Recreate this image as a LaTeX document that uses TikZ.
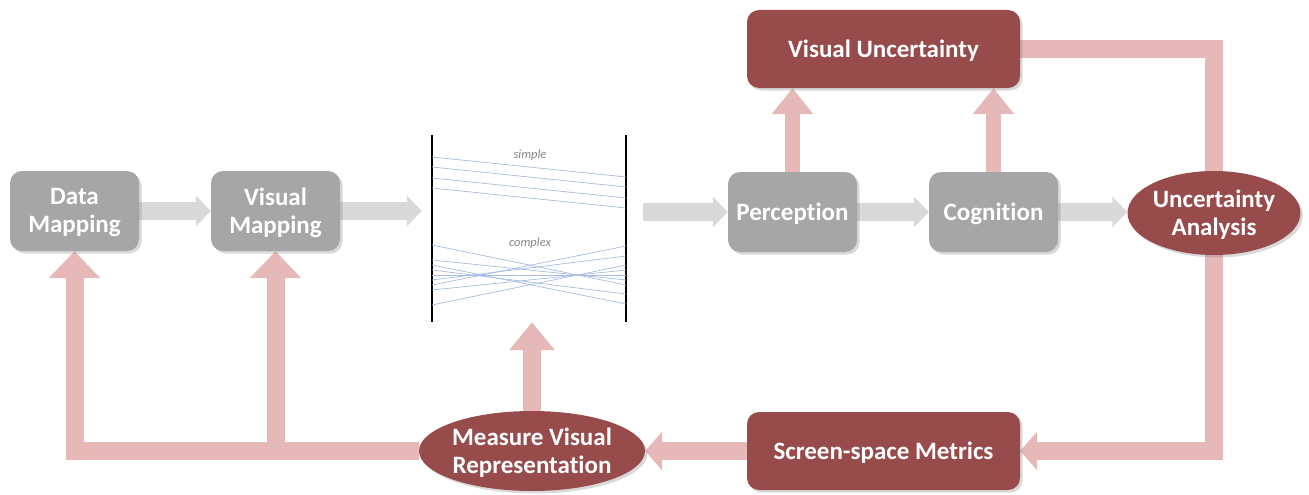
\documentclass[tikz,border=0pt]{standalone}
\usepackage{fontspec}
\setmainfont{Carlito}[Ligatures=NoCommon]
\usetikzlibrary{arrows.meta,shapes.geometric,shadows,backgrounds}
\definecolor{boxgray}{HTML}{A6A6A6}
\definecolor{arrgray}{HTML}{D9D9D9}
\definecolor{darkred}{HTML}{984B4B}
\definecolor{pinkarr}{HTML}{E6B8B7}
\definecolor{pcblue}{HTML}{A7BCE0}
\definecolor{pclabel}{HTML}{858585}
\begin{document}
\begin{tikzpicture}[x=1pt,y=-1pt,
  lbl/.style={text=white, font=\fontsize{25}{28}\selectfont\bfseries, align=center, inner sep=0pt, text depth=1pt},
  shad/.style={drop shadow={shadow xshift=2.5pt, shadow yshift=-2.5pt, opacity=0.3}},
  graybox/.style={lbl, shad, fill=boxgray, rounded corners=12pt, minimum width=129pt, minimum height=80pt},
  redbox/.style={lbl, shad, fill=darkred, rounded corners=12pt, minimum width=273pt, minimum height=78pt},
  redell/.style={lbl, shad, ellipse, fill=darkred},
  grayarr/.style={draw=arrgray, line width=18pt, line cap=butt, -{Triangle[length=15pt,width=30pt]}},
  pinkline/.style={draw=pinkarr, line width=18pt, line cap=butt, line join=miter},
  pinkarrow/.style={pinkline, -{Triangle[length=27pt,width=50pt]}},
  pinkup/.style={draw=pinkarr, line width=15pt, line cap=butt, -{Triangle[length=26pt,width=40pt]}},
  pinkleft/.style={pinkline, -{Triangle[length=17pt,width=38pt]}},
  axis/.style={draw=black, line width=2.5pt},
  pcline/.style={draw=pcblue, line width=0.7pt},
  pclbl/.style={text=pclabel, font=\fontsize{12.5}{14}\selectfont\itshape, inner sep=0pt}
]
\useasboundingbox (0,0) rectangle (1309,495);

% nodes
\node[graybox] (dm) at (74.5,211) {Data\\Mapping};
\node[graybox] (vm) at (275.5,211) {Visual\\Mapping};
\node[minimum width=194pt, minimum height=187pt, inner sep=0pt] (pc) at (529,228.5) {};
\node[graybox] (perc) at (792.5,212) {Perception};
\node[graybox] (cog) at (993.5,212) {Cognition};
\node[redell, minimum width=168pt, minimum height=84pt] (ua) at (1214,213) {Uncertainty\\Analysis};
\node[redbox] (vu) at (883.5,49) {Visual Uncertainty};
\node[redbox] (sm) at (883.5,451) {Screen-space Metrics};
\node[redell, minimum width=220pt, minimum height=80pt] (mvr) at (532,451) {Measure Visual\\Representation};

% parallel coordinates
\draw[axis] (pc.north west) -- (pc.south west);
\draw[axis] (pc.north east) -- (pc.south east);
\node[pclbl] (simple) at (530,155) {simple};
\node[pclbl] (complex) at (530,243) {complex};
\foreach \a/\b in {157/177,167/187,178/198,188/208}
  \draw[pcline] (432,\a) -- (626,\b);
\foreach \a/\b in {265/304,285/246,270/294,280/256,305/265,245/285,290/270,260/280,275/275}
  \draw[pcline] (432,\a) -- (626,\b);

% connectors
\begin{pgfonlayer}{background}
\draw[grayarr] (dm.east) -- (vm.west);
\draw[grayarr, shorten >=10pt] (vm.east) -- (vm.east -| pc.west);
\draw[grayarr, shorten <=17pt] (pc.east |- perc.west) -- (perc.west);
\draw[grayarr] (perc.east) -- (cog.west);
\draw[grayarr] (cog.east) -- (cog.east -| ua.west);
\draw[pinkup] (perc.north) -- (perc.north |- vu.south);
\draw[pinkup] (cog.north) -- (cog.north |- vu.south);
\draw[pinkline] (vu.east) -| (ua.north);
\draw[pinkleft] (ua.south) |- (sm.east);
\draw[pinkleft] (sm.west) -- (mvr.east);
\draw[pinkarrow, -{Triangle[length=28pt,width=44pt]}] (mvr.north) -- (mvr.north |- pc.south);
\draw[pinkarrow] (mvr.west) -| (dm.south);
\draw[pinkarrow] (vm.south |- mvr.west) -- (vm.south);
\end{pgfonlayer}
\end{tikzpicture}
\end{document}
